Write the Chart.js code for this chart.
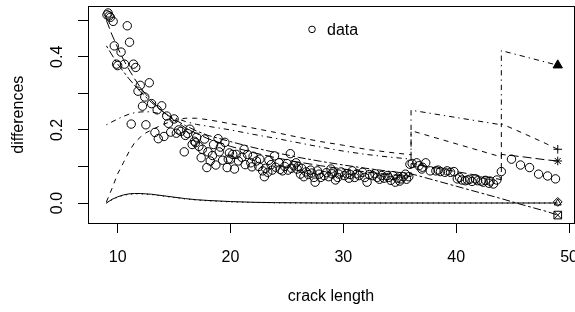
<!DOCTYPE html>
<html>
<head>
<meta charset="utf-8">
<script src="https://cdn.jsdelivr.net/npm/chart.js@4.4.1/dist/chart.umd.min.js"></script>
<style>
html, body { margin: 0; padding: 0; background: #fff; overflow: hidden; }
</style>
</head>
<body>
<canvas id="crackChart" width="640" height="312"></canvas>
<script>
// observed differences against crack length
const crackLength = [
  9.05, 9.15, 9.25, 9.35, 9.6, 9.7, 9.9, 10.0, 10.3, 10.6, 10.85, 11.05, 11.2, 11.4, 11.6, 11.8,
  12.0, 12.2, 12.4, 12.5, 12.8, 13.0, 13.3, 13.5, 13.6, 13.9, 14.1, 14.35, 14.5, 14.7, 15.0, 15.2,
  15.4, 15.6, 15.9, 16.0, 16.2, 16.4, 16.6, 16.8, 16.9, 17.0, 17.2, 17.4, 17.5, 17.7, 17.9, 18.0,
  18.2, 18.4, 18.5, 18.7, 18.9, 19.0, 19.1, 19.3, 19.5, 19.7, 19.8, 19.9, 20.0, 20.2, 20.35, 20.5,
  20.7, 21.0, 21.2, 21.3, 21.5, 21.8, 21.9, 22.0, 22.3, 22.5, 22.6, 22.85, 23.0, 23.1, 23.3, 23.4,
  23.6, 23.7, 23.9, 24.0, 24.3, 24.4, 24.6, 24.8, 25.0, 25.1, 25.3, 25.4, 25.6, 25.8, 25.9, 26.0,
  26.2, 26.3, 26.5, 26.7, 26.9, 27.1, 27.2, 27.4, 27.5, 27.7, 27.85, 28.0, 28.3, 28.5, 28.7, 28.9,
  29.0, 29.1, 29.3, 29.5, 29.6, 29.8, 30.1, 30.3, 30.5, 30.6, 30.8, 31.0, 31.2, 31.4, 31.7, 31.9,
  32.1, 32.3, 32.6, 32.8, 33.0, 33.2, 33.4, 33.6, 33.9, 34.0, 34.2, 34.4, 34.6, 34.8, 35.0, 35.1,
  35.3, 35.5, 35.6, 35.8, 35.9, 36.1, 36.5, 36.7, 36.95, 37.0, 37.3, 37.7, 38.2, 38.4, 38.6, 39.0,
  39.2, 39.5, 39.8, 40.1, 40.3, 40.5, 40.8, 41.0, 41.2, 41.4, 41.7, 41.9, 42.2, 42.4, 42.6, 42.9,
  43.0, 43.3, 43.6, 44.0, 44.9, 45.7, 46.5, 47.3, 48.1, 48.8
];
const differences = [
  0.515, 0.52, 0.512, 0.508, 0.497, 0.43, 0.38, 0.376, 0.413, 0.38, 0.485, 0.44, 0.216, 0.38, 0.371, 0.306,
  0.322, 0.265, 0.29, 0.214, 0.329, 0.272, 0.193, 0.255, 0.176, 0.266, 0.182, 0.238, 0.218, 0.194, 0.23, 0.191,
  0.2, 0.196, 0.14, 0.185, 0.19, 0.202, 0.16, 0.169, 0.165, 0.18, 0.155, 0.124, 0.147, 0.175, 0.097, 0.14,
  0.115, 0.13, 0.16, 0.104, 0.176, 0.14, 0.153, 0.117, 0.166, 0.097, 0.12, 0.137, 0.12, 0.133, 0.093, 0.133,
  0.115, 0.125, 0.147, 0.105, 0.133, 0.11, 0.099, 0.128, 0.115, 0.1, 0.12, 0.088, 0.072, 0.095, 0.084, 0.117,
  0.105, 0.09, 0.129, 0.098, 0.11, 0.092, 0.088, 0.1, 0.108, 0.09, 0.135, 0.095, 0.102, 0.11, 0.093, 0.1,
  0.079, 0.095, 0.072, 0.085, 0.078, 0.09, 0.082, 0.07, 0.057, 0.088, 0.079, 0.07, 0.075, 0.083, 0.072, 0.093,
  0.08, 0.085, 0.063, 0.07, 0.079, 0.085, 0.075, 0.08, 0.068, 0.078, 0.088, 0.07, 0.08, 0.075, 0.084, 0.07,
  0.057, 0.078, 0.075, 0.08, 0.07, 0.065, 0.075, 0.068, 0.075, 0.07, 0.062, 0.075, 0.057, 0.068, 0.06, 0.066,
  0.072, 0.079, 0.065, 0.072, 0.106, 0.108, 0.11, 0.102, 0.093, 0.098, 0.11, 0.088, 0.088, 0.09, 0.086, 0.084,
  0.088, 0.084, 0.086, 0.066, 0.07, 0.063, 0.061, 0.063, 0.065, 0.059, 0.066, 0.061, 0.06, 0.057, 0.062, 0.054,
  0.06, 0.052, 0.063, 0.086, 0.12, 0.104, 0.097, 0.079, 0.074, 0.066
];

// fitted curves (two jumps, at 36 and 44)
const fitX = [9, 9.5, 10, 10.5, 11, 11.5, 12, 12.5, 13, 14, 15, 16, 17, 18, 20, 22, 24, 26, 28, 30, 32, 34, 36, 36, 38, 40, 42, 44, 44, 46, 48, 49];
const fitSolid = [0, 0.01, 0.017, 0.022, 0.025, 0.026, 0.026, 0.025, 0.024, 0.02, 0.016, 0.012, 0.009, 0.007, 0.004, 0.002, 0.001, 0.0005, 0, 0, 0, 0, 0, 0, 0, 0, 0, 0, 0, 0, 0, 0];
const fitDotted = [0, 0.009, 0.016, 0.021, 0.024, 0.025, 0.025, 0.024, 0.023, 0.019, 0.015, 0.011, 0.008, 0.006, 0.003, 0.0015, 0.0005, 0, 0, 0, 0, 0, 0, 0, 0, 0, 0, 0, 0, 0, 0, 0];
const fitDashed = [0.003, 0.04, 0.08, 0.11, 0.14, 0.165, 0.18, 0.192, 0.2, 0.215, 0.226, 0.232, 0.232, 0.228, 0.217, 0.205, 0.193, 0.18, 0.168, 0.158, 0.147, 0.139, 0.132, 0.198, 0.18, 0.162, 0.144, 0.126, 0.217, 0.19, 0.162, 0.147];
const fitDotDash = [0.214, 0.222, 0.23, 0.237, 0.243, 0.247, 0.249, 0.25, 0.249, 0.243, 0.234, 0.223, 0.215, 0.21, 0.2, 0.188, 0.177, 0.165, 0.153, 0.142, 0.133, 0.126, 0.12, 0.254, 0.244, 0.234, 0.224, 0.214, 0.417, 0.401, 0.385, 0.377];
const fitLongDash = [0.5, 0.46, 0.425, 0.393, 0.365, 0.34, 0.317, 0.297, 0.28, 0.25, 0.226, 0.206, 0.19, 0.176, 0.155, 0.138, 0.124, 0.112, 0.102, 0.093, 0.085, 0.078, 0.072, 0.108, 0.097, 0.086, 0.075, 0.064, 0.133, 0.126, 0.118, 0.115];
const fitTwoDash = [0.43, 0.405, 0.38, 0.36, 0.34, 0.322, 0.305, 0.29, 0.275, 0.25, 0.229, 0.212, 0.197, 0.185, 0.168, 0.152, 0.138, 0.125, 0.114, 0.104, 0.095, 0.087, 0.08, 0.08, 0.063, 0.046, 0.029, 0.012, 0.012, -0.006, -0.023, -0.033];

// end markers at crack length 49
const endX = 49;
const endY = [0.377, 0.147, 0.115, 0.003, 0.0, -0.033];

const xTicks = [10, 20, 30, 40, 50];
const yTicks = [0.0, 0.1, 0.2, 0.3, 0.4, 0.5];

const fontFamily = "'Liberation Sans', Arial, Helvetica, sans-serif";
Chart.defaults.font.family = fontFamily;
Chart.defaults.font.size = 16;
Chart.defaults.color = "#000";

const toPoints = (xs, ys) => xs.map((x, i) => ({ x: x, y: ys[i] }));

function fitLine(ys, dash) {
    return {
        data: toPoints(fitX, ys),
        showLine: true,
        borderColor: "#000",
        borderWidth: 1,
        borderDash: dash,
        pointRadius: 0,
        fill: false,
        tension: 0
    };
}

function endMarker(y, style, radius, filled) {
    return {
        data: [{ x: endX, y: y }],
        pointStyle: style,
        pointRadius: radius,
        borderColor: "#000",
        borderWidth: 1,
        backgroundColor: filled ? "#000" : "rgba(0,0,0,0)",
        showLine: false
    };
}

const frame = {
    id: "frame",
    afterDraw(chart) {
        const a = chart.chartArea;
        const ctx = chart.ctx;
        ctx.save();
        ctx.strokeStyle = "#000";
        ctx.lineWidth = 1;
        ctx.strokeRect(Math.round(a.left) + 0.5, Math.round(a.top) + 0.5,
            Math.round(a.right) - Math.round(a.left), Math.round(a.bottom) - Math.round(a.top));

        // legend, top centre, no box
        const cx = (a.left + a.right) / 2;
        ctx.beginPath();
        ctx.arc(cx - 19, a.top + 23, 3.3, 0, Math.PI * 2);
        ctx.stroke();
        ctx.fillStyle = "#000";
        ctx.font = "16px " + fontFamily;
        ctx.textBaseline = "alphabetic";
        ctx.fillText("data", cx - 4, a.top + 28.5);
        ctx.restore();
    }
};

new Chart(document.getElementById("crackChart"), {
    type: "scatter",
    data: {
        datasets: [
            {
                data: toPoints(crackLength, differences),
                pointStyle: "circle",
                pointRadius: 4.2,
                borderColor: "#000",
                borderWidth: 1,
                backgroundColor: "rgba(0,0,0,0)",
                showLine: false
            },
            fitLine(fitSolid, []),
            fitLine(fitDotted, [1.3, 4]),
            fitLine(fitDashed, [5, 5]),
            fitLine(fitDotDash, [1.3, 4, 5.3, 4]),
            fitLine(fitLongDash, [9, 4]),
            fitLine(fitTwoDash, [2.7, 2.7, 8, 2.7]),
            endMarker(endY[0], "triangle", 5.4, true),
            endMarker(endY[1], "cross", 4.3, false),
            endMarker(endY[2], "star", 4.3, false),
            endMarker(endY[3], "rectRot", 4.4, false),
            endMarker(endY[4], "triangle", 4, false),
            endMarker(endY[5], "rect", 5.4, false),
            endMarker(endY[5], "crossRot", 5.4, false)
        ]
    },
    options: {
        responsive: false,
        animation: false,
        events: [],
        layout: { padding: { left: 0, top: 3, right: 66, bottom: 0 } },
        plugins: { legend: { display: false }, tooltip: { enabled: false } },
        scales: {
            x: {
                type: "linear",
                position: "bottom",
                min: 7.37,
                max: 50.44,
                afterBuildTicks: s => { s.ticks = xTicks.map(v => ({ value: v })); },
                ticks: { padding: 15, maxRotation: 0, autoSkip: false, color: "#000" },
                grid: { drawOnChartArea: false, drawTicks: true, tickLength: 10, color: "#000" },
                border: { display: true, color: "#000" },
                title: { display: true, text: "crack length", color: "#000", padding: { top: 0, bottom: 6 } },
                afterFit: s => { s.height = 89; s.paddingLeft = 0; s.paddingRight = 0; }
            },
            y: {
                type: "linear",
                min: -0.0547,
                max: 0.538,
                afterBuildTicks: s => { s.ticks = yTicks.map(v => ({ value: v })); },
                ticks: {
                    autoSkip: false,
                    minRotation: 90,
                    maxRotation: 90,
                    crossAlign: "center",
                    padding: 9,
                    color: "#000",
                    callback: v => (Math.round(v * 10) % 2 === 0 ? v.toFixed(1) : "")
                },
                grid: { drawOnChartArea: false, drawTicks: true, tickLength: 10, color: "#000" },
                border: { display: true, color: "#000" },
                title: { display: true, text: "differences", color: "#000", padding: { top: 9, bottom: 0 } },
                afterFit: s => { s.width = 88; s.paddingTop = 0; s.paddingBottom = 0; }
            }
        }
    },
    plugins: [frame]
});
</script>
</body>
</html>
